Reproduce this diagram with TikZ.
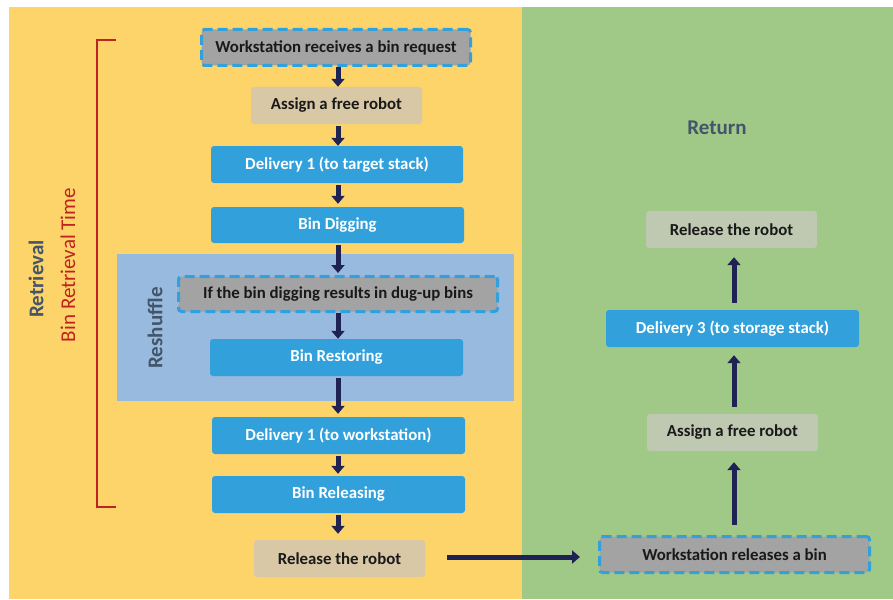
\documentclass[tikz,border=0pt]{standalone}
\usepackage{fontspec}
\setmainfont{Carlito}
\usetikzlibrary{arrows.meta,calc}

\definecolor{panelY}{RGB}{252,212,106}
\definecolor{panelG}{RGB}{160,201,136}
\definecolor{stepblue}{RGB}{50,161,219}
\definecolor{tanfill}{RGB}{216,200,166}
\definecolor{tanfillG}{RGB}{191,200,176}
\definecolor{grayfill}{RGB}{163,163,163}
\definecolor{navy}{RGB}{31,35,84}
\definecolor{slate}{RGB}{68,84,106}
\definecolor{bracketred}{RGB}{192,33,33}
\definecolor{reshufflebg}{RGB}{151,186,222}

\tikzset{
  boxbase/.style={rounded corners=3pt, inner sep=0pt, align=center,
    font=\fontsize{16.8}{19}\selectfont\bfseries},
  bluebox/.style={boxbase, fill=stepblue, text=white},
  tanbox/.style={boxbase, fill=tanfill, text=black!90},
  tanboxG/.style={boxbase, fill=tanfillG, text=black!90},
  eventbox/.style={boxbase, fill=grayfill, text=black!90, draw=stepblue,
    line width=3pt, dash pattern=on 10pt off 5pt},
  flow/.style={draw=navy, line width=5pt,
    -{Triangle[width=13pt,length=8pt]}},
  label/.style={font=\fontsize{21}{24}\selectfont\bfseries, text=slate}
}

\begin{document}
\begin{tikzpicture}[x=1pt,y=-1pt]
  \useasboundingbox (0,0) rectangle (893,599);

  % background panels
  \fill[white] (0,0) rectangle (893,599);
  \fill[panelY] (9,7) rectangle (522,599);
  \fill[panelG] (522,7) rectangle (893,599);
  \fill[reshufflebg] (117,254) rectangle (514,401);

  % retrieval column
  \node[eventbox, minimum width=269pt, minimum height=36pt] (b1) at (336,47.5)
    {Workstation receives a bin request};
  \node[tanbox, minimum width=171pt, minimum height=37pt] (b2) at (336.5,105.5)
    {Assign a free robot};
  \node[bluebox, minimum width=252pt, minimum height=37pt] (b3) at (337,164.5)
    {Delivery 1 (to target stack)};
  \node[bluebox, minimum width=253pt, minimum height=36pt] (b4) at (337.5,225)
    {Bin Digging};
  \node[eventbox, minimum width=319pt, minimum height=35pt] (b5) at (338,294)
    {If the bin digging results in dug-up bins};
  \node[bluebox, minimum width=253pt, minimum height=37pt] (b6) at (336.5,357.5)
    {Bin Restoring};
  \node[bluebox, minimum width=253pt, minimum height=37pt] (b7) at (338.5,435.5)
    {Delivery 1 (to workstation)};
  \node[bluebox, minimum width=253pt, minimum height=37pt] (b8) at (338.5,494.5)
    {Bin Releasing};
  \node[tanbox, minimum width=171pt, minimum height=37pt] (b9) at (339.5,558.5)
    {Release the robot};

  % return column
  \node[eventbox, minimum width=270pt, minimum height=36pt] (b10) at (734.5,554.5)
    {Workstation releases a bin};
  \node[tanboxG, minimum width=171pt, minimum height=37pt] (b11) at (732.5,432.5)
    {Assign a free robot};
  \node[bluebox, minimum width=253pt, minimum height=37pt] (b12) at (732.5,328.5)
    {Delivery 3 (to storage stack)};
  \node[tanboxG, minimum width=171pt, minimum height=37pt] (b13) at (731.5,229.5)
    {Release the robot};

  % section labels
  \node[label, rotate=90] (lretr) at (36,279) {Retrieval};
  \node[font=\fontsize{21}{24}\selectfont, text=bracketred, rotate=90] (ltime) at (68,265)
    {Bin Retrieval Time};
  \node[label, rotate=90] (lresh) at (155,328) {Reshuffle};
  \node[label] (lret) at (717,128) {Return};

  % bracket spanning the retrieval time
  \coordinate (brtop) at (116,40);
  \coordinate (brbot) at (116,507);
  \draw[bracketred, line width=2.8pt] (brtop) -- ++(-19,0) -- (97,507) -- (brbot);

  % flow arrows, retrieval
  \coordinate (cx) at (338,0);
  \draw[flow] (cx |- b1.south) -- (cx |- b2.north);
  \draw[flow, shorten <=2pt] (cx |- b2.south) -- (cx |- b3.north);
  \draw[flow, shorten <=2pt, shorten >=3pt] (cx |- b3.south) -- (cx |- b4.north);
  \draw[flow, shorten <=2pt, shorten >=2pt] (cx |- b4.south) -- (cx |- b5.north);
  \draw[flow] (cx |- b5.south) -- (cx |- b6.north);
  \draw[flow, shorten <=2pt, shorten >=3pt] (cx |- b6.south) -- (cx |- b7.north);
  \draw[flow, shorten <=2pt, shorten >=2pt] (cx |- b7.south) -- (cx |- b8.north);
  \draw[flow, shorten <=2pt, shorten >=6pt] (cx |- b8.south) -- (cx |- b9.north);

  % handover to the return column
  \coordinate (hy) at (0,557);
  \draw[flow, shorten <=22pt, shorten >=18pt] (b9.east |- hy) -- (b10.west |- hy);

  % flow arrows, return
  \coordinate (rx) at (734,0);
  \draw[flow, shorten <=10pt, shorten >=11pt] (rx |- b10.north) -- (rx |- b11.south);
  \draw[flow, shorten <=7pt, shorten >=8pt] (rx |- b11.north) -- (rx |- b12.south);
  \draw[flow, shorten <=7pt, shorten >=9pt] (rx |- b12.north) -- (rx |- b13.south);
\end{tikzpicture}
\end{document}
